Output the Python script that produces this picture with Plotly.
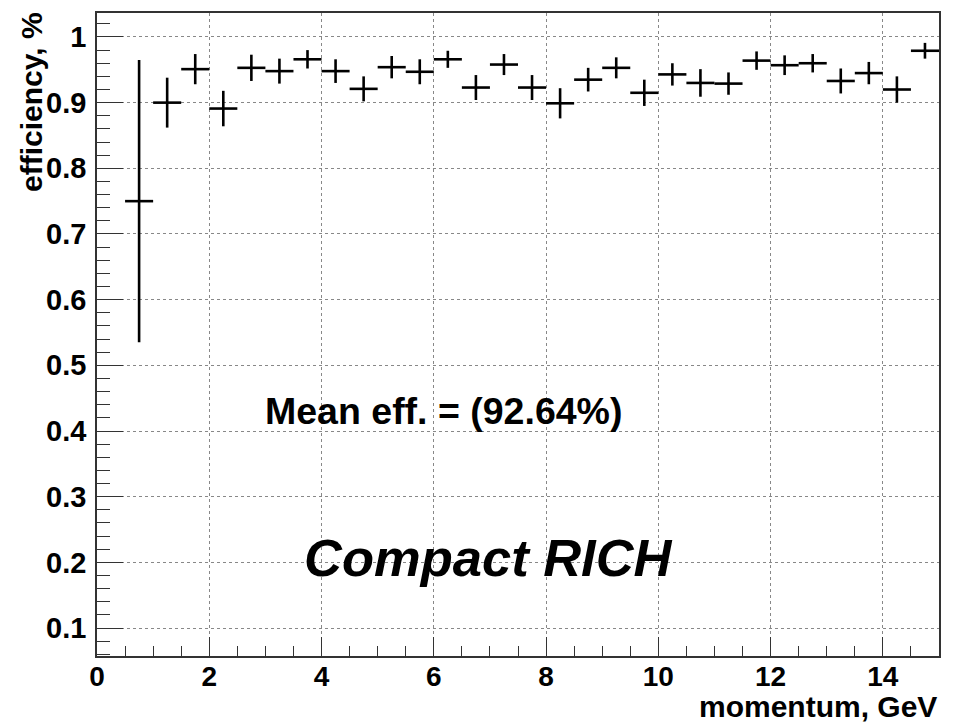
import plotly.graph_objects as go

# ---- data ----
momentum = [0.75, 1.25, 1.75, 2.25, 2.75, 3.25, 3.75, 4.25, 4.75, 5.25, 5.75, 6.25, 6.75, 7.25,
            7.75, 8.25, 8.75, 9.25, 9.75, 10.25, 10.75, 11.25, 11.75, 12.25, 12.75, 13.25, 13.75,
            14.25, 14.75]
efficiency = [0.750, 0.900, 0.951, 0.891, 0.953, 0.948, 0.966, 0.948, 0.921, 0.954, 0.947, 0.966,
              0.923, 0.958, 0.923, 0.899, 0.935, 0.953, 0.915, 0.943, 0.930, 0.929, 0.964, 0.957,
              0.960, 0.933, 0.945, 0.920, 0.979]
eff_error = [0.215, 0.038, 0.023, 0.027, 0.020, 0.019, 0.014, 0.018, 0.019, 0.017, 0.019, 0.013,
             0.019, 0.016, 0.019, 0.023, 0.018, 0.016, 0.020, 0.017, 0.021, 0.017, 0.014, 0.015,
             0.014, 0.019, 0.017, 0.020, 0.012]
bin_half_width = [0.25] * len(momentum)

mean_label = "Mean eff. = (92.64%)"
label_text = "Compact RICH"
x_title = "momentum, GeV"
y_title = "efficiency, %"

FONT = "Liberation Sans, Arial, Helvetica, sans-serif"

fig = go.Figure()
fig.add_trace(go.Scatter(
    x=momentum, y=efficiency, mode="markers",
    marker=dict(size=0.1, color="black"),
    error_x=dict(type="data", array=bin_half_width, width=0, thickness=2.6, color="black"),
    error_y=dict(type="data", array=eff_error, width=0, thickness=2.6, color="black"),
    showlegend=False, hoverinfo="x+y",
))

fig.add_annotation(x=6.18, y=0.43, xref="x", yref="y", text=mean_label, showarrow=False,
                   xanchor="center", yanchor="middle",
                   font=dict(family=FONT, size=37.5, color="black", weight="bold"))
fig.add_annotation(x=6.98, y=0.207, xref="x", yref="y", text=label_text, showarrow=False,
                   xanchor="center", yanchor="middle",
                   font=dict(family=FONT, size=52.5, color="black", weight="bold", style="italic"))

# axis titles (ROOT style, aligned to axis ends)
fig.add_annotation(x=1.0, y=-0.078, xref="paper", yref="paper", text=x_title, showarrow=False,
                   xanchor="right", yanchor="middle",
                   font=dict(family=FONT, size=30, color="black", weight="bold"))
fig.add_annotation(x=-0.077, y=1.005, xref="paper", yref="paper", text=y_title, showarrow=False,
                   xanchor="center", yanchor="top", textangle=-90,
                   font=dict(family=FONT, size=30, color="black", weight="bold"))

fig.update_layout(
    width=957, height=723,
    margin=dict(l=97, r=18, t=13, b=67),
    paper_bgcolor="white", plot_bgcolor="white",
    font=dict(family=FONT, color="black"),
)
fig.update_xaxes(
    range=[0, 15], tick0=0, dtick=2,
    showline=True, linecolor="#333", linewidth=1.5, mirror=True,
    ticks="inside", ticklen=19, tickwidth=1, tickcolor="#333",
    minor=dict(dtick=0.5, ticks="inside", ticklen=10, tickwidth=1, tickcolor="#333", showgrid=False),
    showgrid=True, gridcolor="#888", griddash="dot", gridwidth=1,
    zeroline=False,
    tickfont=dict(family=FONT, size=28, color="black", weight="bold"),
    ticklabelstandoff=-5,
)
fig.update_yaxes(
    range=[0.0574, 1.0365], tick0=0, dtick=0.1,
    showline=True, linecolor="#333", linewidth=1.5, mirror=True,
    ticks="inside", ticklen=26, tickwidth=1, tickcolor="#333",
    minor=dict(dtick=0.02, ticks="inside", ticklen=13, tickwidth=1, tickcolor="#333", showgrid=False),
    showgrid=True, gridcolor="#888", griddash="dot", gridwidth=1,
    zeroline=False,
    tickfont=dict(family=FONT, size=29, color="black", weight="bold"),
    ticklabelstandoff=3,
)

fig.write_html("out.html")
